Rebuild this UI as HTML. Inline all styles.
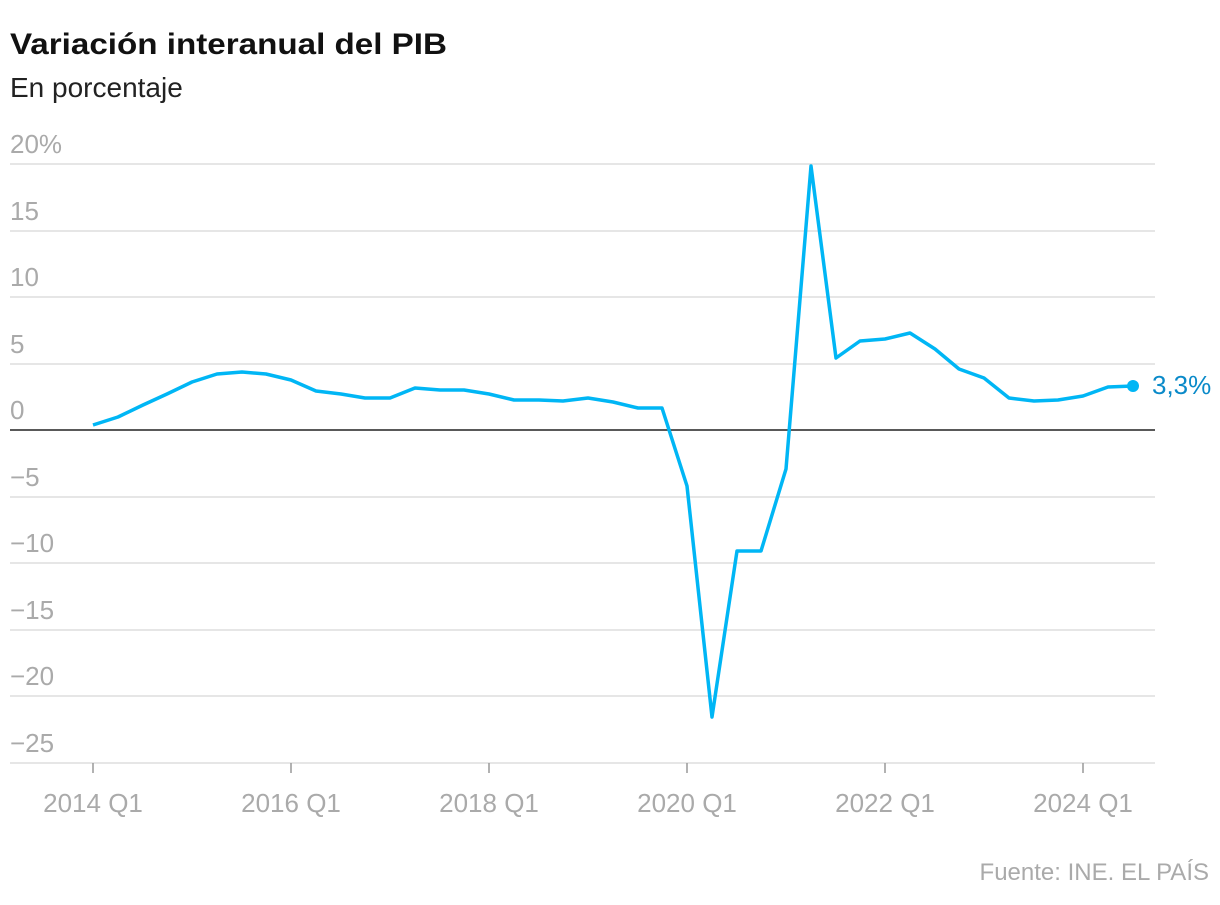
<!DOCTYPE html>
<html><head><meta charset="utf-8"><style>
body{margin:0;background:#fff;width:1220px;height:900px;overflow:hidden;font-family:"Liberation Sans",sans-serif}
</style></head><body>
<svg width="1220" height="900" xmlns="http://www.w3.org/2000/svg" font-family="Liberation Sans, sans-serif">
<text x="10" y="54" font-size="30" font-weight="bold" fill="#111" textLength="437" lengthAdjust="spacingAndGlyphs">Variación interanual del PIB</text>
<text x="10" y="97" font-size="28" fill="#222">En porcentaje</text>
<g stroke="#ddd" stroke-width="1.5">
<line x1="10" x2="1155" y1="164" y2="164"/><line x1="10" x2="1155" y1="231" y2="231"/>
<line x1="10" x2="1155" y1="297" y2="297"/><line x1="10" x2="1155" y1="364" y2="364"/>
<line x1="10" x2="1155" y1="497" y2="497"/><line x1="10" x2="1155" y1="563" y2="563"/>
<line x1="10" x2="1155" y1="630" y2="630"/><line x1="10" x2="1155" y1="696" y2="696"/>
<line x1="10" x2="1155" y1="763" y2="763"/>
</g>
<line x1="10" x2="1155" y1="430" y2="430" stroke="#222" stroke-width="1.5"/>
<g font-size="26" fill="#aaa">
<text x="10" y="153">20%</text><text x="10" y="220">15</text><text x="10" y="286">10</text>
<text x="10" y="353">5</text><text x="10" y="419">0</text><text x="10" y="486">−5</text>
<text x="10" y="552">−10</text><text x="10" y="619">−15</text><text x="10" y="685">−20</text>
<text x="10" y="752">−25</text>
</g>
<g stroke="#999" stroke-width="1.5">
<line x1="93" x2="93" y1="763" y2="773"/><line x1="291" x2="291" y1="763" y2="773"/>
<line x1="489" x2="489" y1="763" y2="773"/><line x1="687" x2="687" y1="763" y2="773"/>
<line x1="885" x2="885" y1="763" y2="773"/><line x1="1083" x2="1083" y1="763" y2="773"/>
</g>
<g font-size="26" fill="#aaa" text-anchor="middle">
<text x="93" y="812">2014 Q1</text><text x="291" y="812">2016 Q1</text><text x="489" y="812">2018 Q1</text>
<text x="687" y="812">2020 Q1</text><text x="885" y="812">2022 Q1</text><text x="1083" y="812">2024 Q1</text>
</g>
<polyline fill="none" stroke="#00b6f5" stroke-width="3.5" stroke-linejoin="round" points="93,425 118,417 143,405 167,394 192,382 217,374 242,372 266,374 291,380 316,391 341,394 365,398 390,398 415,388 440,390 464,390 489,394 514,400 539,400 563,401 588,398 613,402 638,408 662,408 687,486 712,717 737,551 761,551 786,469 811,166 836,358 860,341 885,339 910,333 935,349 959,369 984,378 1009,398 1034,401 1058,400 1083,396 1108,387 1133,386"/>
<circle cx="1133" cy="386" r="6" fill="#00b6f5"/>
<text x="1152" y="394" font-size="26" fill="#0a8ac9">3,3%</text>
<text x="1209" y="880" font-size="24" fill="#aaa" text-anchor="end">Fuente: INE. EL PAÍS</text>
</svg>
</body></html>
